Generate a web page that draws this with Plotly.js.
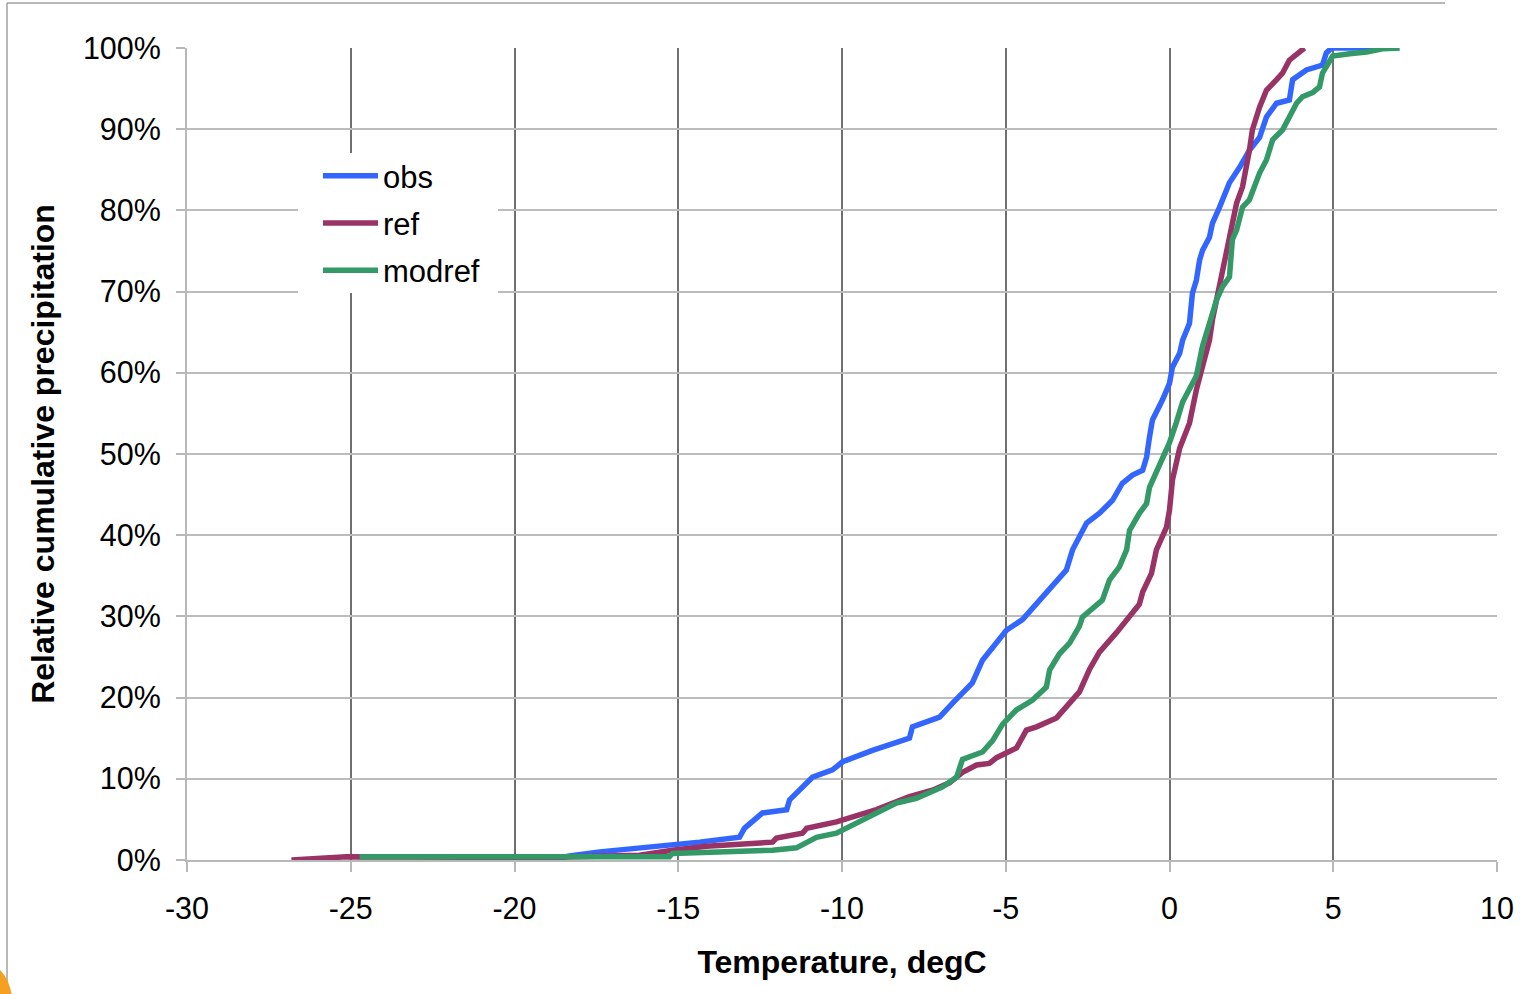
<!DOCTYPE html>
<html>
<head>
<meta charset="utf-8">
<script src="https://cdn.plot.ly/plotly-3.0.1.min.js"></script>
<style>
  html, body { margin: 0; padding: 0; background: #ffffff; }
  #chart { width: 1539px; height: 994px; }
</style>
</head>
<body>
<div id="chart"></div>
<script>
// ---- Data (temperature in degC, relative cumulative precipitation in %) ----
const obsT = [-18.93, -18.32, -17.40, -15.88, -14.96, -14.35, -13.13, -12.98, -12.43, -11.69, -11.60, -10.90, -10.29, -9.98, -9.07, -7.94, -7.85, -7.02, -6.63, -6.02, -5.71, -4.98, -4.49, -3.97, -3.45, -3.15, -2.96, -2.53, -2.14, -1.74, -1.44, -1.13, -0.82, -0.70, -0.61, -0.52, -0.21, 0.00, 0.09, 0.31, 0.40, 0.61, 0.70, 0.82, 0.92, 1.01, 1.22, 1.31, 1.53, 1.83, 2.14, 2.44, 2.75, 2.96, 3.27, 3.66, 3.76, 4.18, 4.67, 4.79, 4.95, 7.02];
const obsP = [0.0, 0.5, 1.0, 1.6, 1.8, 2.2, 2.8, 3.9, 5.8, 6.2, 7.4, 10.2, 11.1, 12.1, 13.5, 15.0, 16.4, 17.6, 19.3, 21.8, 24.6, 28.3, 29.6, 32.0, 34.5, 35.7, 38.2, 41.5, 42.7, 44.3, 46.4, 47.4, 48.0, 49.6, 52.1, 54.2, 56.7, 58.7, 60.7, 62.4, 64.0, 66.1, 69.8, 71.4, 73.9, 75.1, 76.7, 78.4, 80.4, 83.4, 85.3, 87.4, 89.0, 91.5, 93.2, 93.6, 96.1, 97.3, 97.9, 99.4, 100.0, 100.0];

const refT = [-26.81, -25.13, -19.24, -16.18, -15.18, -14.14, -12.12, -12.00, -11.21, -11.08, -10.17, -8.95, -7.94, -7.24, -6.72, -6.32, -5.89, -5.50, -5.28, -4.67, -4.37, -4.06, -3.45, -3.15, -2.75, -2.44, -2.14, -1.62, -1.13, -0.92, -0.82, -0.55, -0.40, -0.21, -0.09, 0.00, 0.09, 0.31, 0.61, 0.82, 1.01, 1.22, 1.31, 1.53, 1.62, 1.74, 1.83, 1.92, 2.05, 2.23, 2.44, 2.53, 2.75, 2.96, 3.27, 3.45, 3.66, 3.97, 4.12];
const refP = [0.0, 0.4, 0.3, 0.6, 1.2, 1.7, 2.2, 2.7, 3.3, 3.9, 4.7, 6.2, 7.8, 8.6, 9.5, 10.8, 11.7, 11.9, 12.6, 13.8, 16.0, 16.4, 17.5, 18.8, 20.7, 23.5, 25.6, 28.0, 30.3, 31.5, 33.0, 35.3, 38.2, 39.8, 41.0, 43.1, 46.8, 50.7, 53.8, 57.9, 60.7, 64.0, 66.5, 71.1, 72.7, 75.5, 77.2, 78.4, 80.9, 82.9, 87.4, 89.9, 92.7, 94.8, 96.1, 96.9, 98.5, 99.4, 100.0];

const modrefT = [-24.73, -15.27, -15.18, -12.61, -12.12, -11.39, -11.08, -10.78, -10.17, -9.77, -8.95, -8.34, -7.73, -6.93, -6.50, -6.32, -5.71, -5.40, -5.10, -4.67, -4.18, -3.76, -3.66, -3.36, -3.05, -2.75, -2.66, -2.23, -2.05, -1.83, -1.53, -1.31, -1.22, -0.92, -0.70, -0.61, -0.40, -0.21, 0.00, 0.21, 0.40, 0.61, 0.82, 1.01, 1.22, 1.44, 1.62, 1.83, 1.92, 2.05, 2.23, 2.44, 2.75, 2.96, 3.15, 3.45, 3.66, 3.88, 4.06, 4.37, 4.58, 4.67, 4.79, 4.98, 5.50, 6.02, 6.50, 7.02];
const modrefP = [0.4, 0.4, 0.8, 1.0, 1.2, 1.5, 2.1, 2.8, 3.3, 4.1, 5.8, 7.0, 7.6, 9.0, 10.2, 12.4, 13.3, 14.7, 16.7, 18.5, 19.7, 21.3, 23.4, 25.4, 26.7, 28.8, 29.9, 31.5, 32.0, 34.5, 36.1, 38.2, 40.6, 42.7, 43.9, 45.9, 47.7, 49.3, 51.4, 53.9, 56.4, 58.0, 59.6, 63.3, 66.1, 69.0, 70.6, 71.8, 76.4, 77.6, 80.4, 81.3, 84.6, 86.2, 88.7, 89.9, 91.5, 93.2, 94.0, 94.5, 95.2, 96.9, 97.7, 99.0, 99.3, 99.5, 99.9, 100.0];

const seriesNames = ['obs', 'ref', 'modref'];
const seriesColors = ['#3366FF', '#993366', '#339966'];
const xTickVals = [-30, -25, -20, -15, -10, -5, 0, 5, 10];
const yTickVals = [0, 10, 20, 30, 40, 50, 60, 70, 80, 90, 100];

const FONT = '"Liberation Sans", Arial, Helvetica, sans-serif';
const xs = [obsT, refT, modrefT];
const ys = [obsP, refP, modrefP];

const traces = seriesNames.map((n, i) => ({
  type: 'scatter',
  mode: 'lines',
  name: n,
  legendgroup: n,
  x: xs[i],
  y: ys[i],
  line: { color: seriesColors[i], width: 5.5, shape: 'linear' },
  hoverinfo: 'x+y+name'
}));

// pixel -> paper helpers for decorative shapes / legend placement only
const px2x = p => (p - 187) / 1310;
const px2y = p => (860 - p) / 812;

const layout = {
  width: 1539,
  height: 994,
  margin: { l: 187, r: 42, t: 48, b: 134, pad: 0 },
  paper_bgcolor: '#ffffff',
  plot_bgcolor: '#ffffff',
  font: { family: FONT, color: '#000000', size: 30 },
  showlegend: true,
  legend: {
    x: px2x(318), y: px2y(149), xanchor: 'left', yanchor: 'top',
    bgcolor: 'rgba(255,255,255,0)', borderwidth: 0,
    font: { family: FONT, size: 31, color: '#000000' },
    tracegroupgap: 4,
    itemwidth: 55
  },
  xaxis: {
    range: [-30, 10],
    tickvals: xTickVals,
    ticktext: xTickVals.map(String),
    showgrid: true, gridcolor: '#707070', gridwidth: 1.5,
    zeroline: false,
    showline: true, linecolor: '#b8b8b8', linewidth: 2,
    ticks: 'outside', ticklen: 10, tickwidth: 2, tickcolor: '#b8b8b8',
    tickfont: { family: FONT, size: 30.5, color: '#000000' },
    ticklabelstandoff: 10,
    title: { text: '<b>Temperature, degC</b>', font: { family: FONT, size: 32, color: '#000000' }, standoff: 27 },
    fixedrange: true
  },
  yaxis: {
    range: [0, 100],
    tickvals: yTickVals,
    ticktext: yTickVals.map(v => v + '%'),
    showgrid: true, gridcolor: '#bcbcbc', gridwidth: 2,
    zeroline: false,
    showline: true, linecolor: '#b8b8b8', linewidth: 2,
    ticks: 'outside', ticklen: 9, tickwidth: 2, tickcolor: '#b8b8b8',
    tickfont: { family: FONT, size: 30.5, color: '#000000' },
    ticklabelstandoff: 9,
    title: { text: '<b>Relative cumulative precipitation</b>', font: { family: FONT, size: 32, color: '#000000' }, standoff: 19 },
    fixedrange: true
  },
  shapes: [
    // white legend box covering gridlines (no traces pass through this area)
    { type: 'rect', xref: 'paper', yref: 'paper', layer: 'above',
      x0: px2x(298), x1: px2x(498), y0: px2y(293), y1: px2y(153),
      fillcolor: '#ffffff', line: { width: 0 } },
    // outer frame fragments
    { type: 'line', xref: 'paper', yref: 'paper', x0: px2x(7), x1: px2x(7), y0: px2y(3), y1: px2y(1000), line: { color: '#a0a0a0', width: 1.5 } },
    { type: 'line', xref: 'paper', yref: 'paper', x0: px2x(7), x1: px2x(1445), y0: px2y(3), y1: px2y(3), line: { color: '#a0a0a0', width: 1.5 } },
    { type: 'circle', xref: 'paper', yref: 'paper', x0: px2x(-40), x1: px2x(12), y0: px2y(964), y1: px2y(1040), fillcolor: '#f5a020', line: { width: 0 } }
  ]
};

Plotly.newPlot('chart', traces, layout, { displayModeBar: false });
</script>
</body>
</html>
